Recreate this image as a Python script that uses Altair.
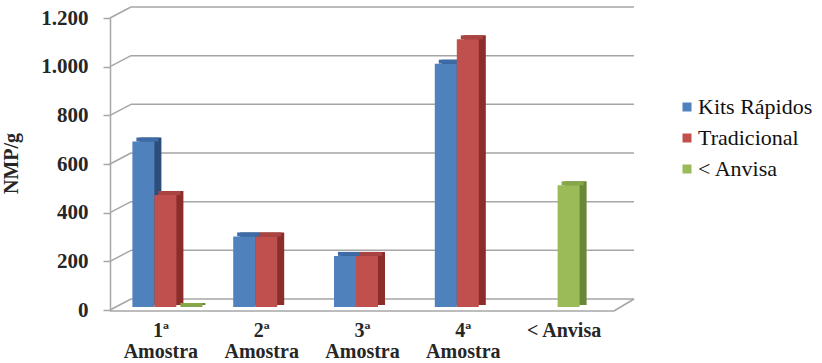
import altair as alt
import pandas as pd

# Sample categories and NMP/g counts per method
categories = ["1ª Amostra", "2ª Amostra", "3ª Amostra", "4ª Amostra", "< Anvisa"]
series = ["Kits Rápidos", "Tradicional", "< Anvisa"]
kits_rapidos = [680, 290, 210, 1000, None]
tradicional = [460, 290, 210, 1100, None]
limite_anvisa = [0, None, None, None, 500]
y_ticks = [0, 200, 400, 600, 800, 1000, 1200]

# Face colours of the 3-D columns (front, top, side)
front_colors = ["#4f81bd", "#c0504d", "#9bbb59"]
top_colors = ["#3e6ba5", "#a94441", "#86a64a"]
side_colors = ["#2c4e7a", "#8a2d2b", "#6a8637"]

GRAY = "#a6a6a6"
FONT = "Liberation Serif"
W, H = 504, 292
SLOT = 22 / (W / len(categories))  # column width in category units
LEFT, RIGHT = -0.5, len(categories) - 0.5

rows = []
for i, cat in enumerate(categories):
    values = [col[i] for col in (kits_rapidos, tradicional, limite_anvisa)]
    present = [(k, v) for k, v in enumerate(values) if v is not None]
    for k, v in present:
        s = 0 if len(present) == 1 else k - 1
        c = i + s * SLOT
        rows.append({
            "serie": series[k],
            "valor": v,
            "base": 0,
            "x0": c - SLOT / 2,
            "x1": c + SLOT / 2,
            "cor_topo": top_colors[k],
            "cor_lado": side_colors[k],
        })
bars = pd.DataFrame(rows)
grid = pd.DataFrame({"v": y_ticks, "xa": LEFT, "xb": RIGHT})
floor_df = grid.head(1)

xs = alt.Scale(domain=[LEFT, RIGHT], nice=False, zero=False)
ys = alt.Scale(domain=[0, 1200], nice=False)

# "1ª Amostra" breaks onto two lines, "< Anvisa" stays on one
label_table = "|".join(c.replace(" ", "~") if "Amostra" in c else c for c in categories)
x_label_expr = f"split(split('{label_table}', '|')[datum.value], '~')"

X_AXIS = alt.Axis(values=list(range(len(categories))), labelExpr=x_label_expr,
                  ticks=False, domain=False, labelPadding=10, labelLineHeight=21,
                  labelFontSize=20)
Y_AXIS = alt.Axis(values=y_ticks, labelExpr="replace(format(datum.value, ','), ',', '.')",
                  tickSize=7, labelPadding=15, titleX=-89, titleY=145)


def xq(field):
    return alt.X(field, type="quantitative", scale=xs, axis=X_AXIS, title=None)


def yq(field):
    return alt.Y(field, type="quantitative", scale=ys, axis=Y_AXIS, title="NMP/g")


# Back wall gridlines
wall = alt.Chart(grid).mark_rule(color=GRAY, strokeWidth=1.5, yOffset=-11, xOffset=21, x2Offset=20).encode(
    y=yq("v"), x=xq("xa"), x2="xb:Q",
)
# Slanted joins from the axis ticks to the wall
joins = alt.Chart(grid).mark_rule(color=GRAY, strokeWidth=1.5, x2Offset=21, y2Offset=-11).encode(
    y=yq("v"), y2="v:Q", x=xq("xa"), x2="xa:Q",
)
# Front edge of the floor and its right-hand corner
floor = alt.Chart(floor_df).mark_rule(color=GRAY, strokeWidth=1.5, yOffset=1).encode(
    y=yq("v"), x=xq("xa"), x2="xb:Q",
)
floor_corner = alt.Chart(floor_df).mark_rule(color=GRAY, strokeWidth=1.5, yOffset=1, x2Offset=20,
                                             y2Offset=-11).encode(
    y=yq("v"), y2="v:Q", x=xq("xb"), x2="xb:Q",
)

# Column depth: side face, top face, then the front face
side = alt.Chart(bars).mark_bar(xOffset=12, x2Offset=12, yOffset=-7, y2Offset=-5).encode(
    x=xq("x0"), x2="x1:Q", y=yq("valor"), y2="base:Q",
    color=alt.Color("cor_lado:N", scale=None),
)
top = alt.Chart(bars).mark_bar(xOffset=9, x2Offset=9, yOffset=-7, y2Offset=-3).encode(
    x=xq("x0"), x2="x1:Q", y=yq("valor"), y2="valor:Q",
    color=alt.Color("cor_topo:N", scale=None),
)
front = alt.Chart(bars).mark_bar(xOffset=5, x2Offset=5, yOffset=-3, y2Offset=-3).encode(
    x=xq("x0"), x2="x1:Q", y=yq("valor"), y2="base:Q",
    color=alt.Color("serie:N", scale=alt.Scale(domain=series, range=front_colors),
                    legend=alt.Legend(title=None, orient="none", legendX=566, legendY=78)),
)

chart = alt.layer(wall, joins, floor, floor_corner, side, top, front).properties(
    width=W, height=H,
    autosize=alt.AutoSizeParams(type="none"),
    padding={"left": 110, "top": 18, "right": 822 - 110 - W, "bottom": 363 - 18 - H},
    background="white",
).configure_view(
    stroke=None
).configure_axis(
    grid=False, domainColor=GRAY, domainWidth=1.5, tickColor=GRAY, tickWidth=1.5,
    labelFont=FONT, labelFontSize=21, labelFontWeight="bold", labelColor="#262626",
    titleFont=FONT, titleFontSize=20, titleFontWeight="bold", titleColor="#262626",
).configure_legend(
    padding=0, symbolType="square", symbolSize=81, symbolStrokeWidth=0, labelOffset=0, rowPadding=9,
    labelFont=FONT, labelFontSize=22, labelColor="#111111",
)

chart.save("out.html", embed_options={"renderer": "svg", "actions": False})
